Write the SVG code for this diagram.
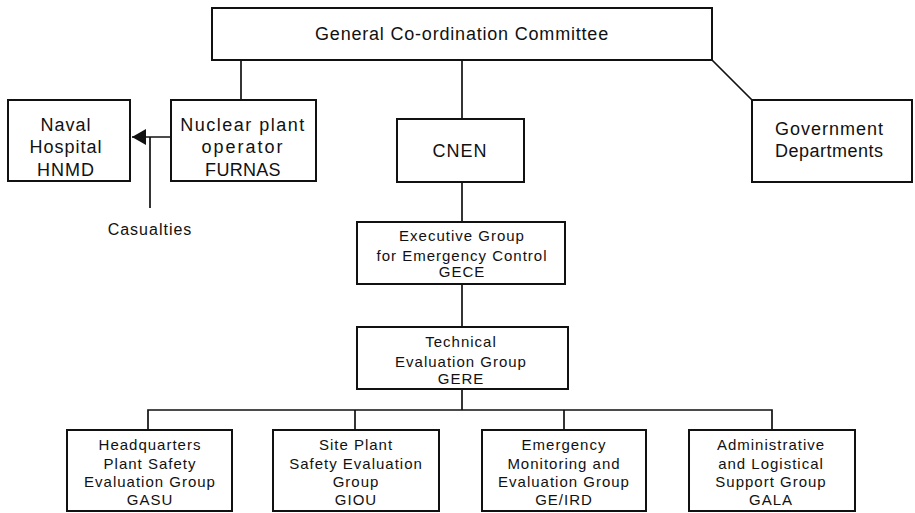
<svg xmlns="http://www.w3.org/2000/svg" width="915" height="513" viewBox="0 0 915 513">
<style>
.box{fill:#fff;stroke:#111;stroke-width:2}
.con{fill:none;stroke:#111;stroke-width:1.7}
text{font-family:"Liberation Sans",Arial,sans-serif;fill:#111;text-anchor:middle}
.t18{font-size:18px;letter-spacing:1px}
.ttl{font-size:18px;letter-spacing:0.8px}
.t15{font-size:15px;letter-spacing:1px}
.t16{font-size:16px;letter-spacing:1px}
.left{text-anchor:start}
</style>
<defs>
<marker id="arr" markerWidth="14" markerHeight="16" refX="14" refY="8" orient="auto" markerUnits="userSpaceOnUse">
<path d="M0,0 L14,8 L0,16 Z" fill="#111"/>
</marker>
</defs>
<g id="connectors">
<line class="con" x1="241" y1="60" x2="241" y2="100"/>
<line class="con" x1="462" y1="60" x2="462" y2="119"/>
<line class="con" x1="712" y1="60" x2="752" y2="100"/>
<line class="con" x1="171" y1="137" x2="132" y2="137" marker-end="url(#arr)"/>
<line class="con" x1="150" y1="137" x2="150" y2="208"/>
<line class="con" x1="462" y1="182" x2="462" y2="222"/>
<line class="con" x1="462" y1="284" x2="462" y2="327"/>
<line class="con" x1="462" y1="389" x2="462" y2="410"/>
<polyline class="con" points="148,430 148,410 772,410 772,430"/>
<line class="con" x1="355" y1="410" x2="355" y2="430"/>
<line class="con" x1="564" y1="410" x2="564" y2="430"/>
</g>
<g id="gcc">
<rect class="box" x="212" y="8" width="500" height="52"/>
<text class="ttl" x="462" y="40">General Co-ordination Committee</text>
</g>
<g id="naval">
<rect class="box" x="8" y="100" width="122" height="81"/>
<text class="t18" x="66" y="131">Naval</text>
<text class="t18" x="66" y="153">Hospital</text>
<text class="t18" x="66" y="176">HNMD</text>
</g>
<g id="furnas">
<rect class="box" x="171" y="100" width="145" height="81"/>
<text class="t18" x="243" y="131" style="letter-spacing:1.5px">Nuclear plant</text>
<text class="t18" x="243" y="153" style="letter-spacing:2px">operator</text>
<text class="t18" x="243" y="176" style="letter-spacing:0.3px">FURNAS</text>
</g>
<g id="casualties">
<text class="t16" x="150" y="235">Casualties</text>
</g>
<g id="cnen">
<rect class="box" x="397" y="119" width="127" height="63"/>
<text class="t18" x="460" y="157">CNEN</text>
</g>
<g id="gov">
<rect class="box" x="752" y="100" width="160" height="82"/>
<text class="t18 left" x="775" y="135">Government</text>
<text class="t18 left" x="775" y="157" style="letter-spacing:0.5px">Departments</text>
</g>
<g id="gece">
<rect class="box" x="357" y="222" width="208" height="62"/>
<text class="t15" x="462" y="241">Executive Group</text>
<text class="t15" x="462" y="261">for Emergency Control</text>
<text class="t15" x="462" y="277">GECE</text>
</g>
<g id="gere">
<rect class="box" x="357" y="327" width="211" height="62"/>
<text class="t15" x="461" y="347">Technical</text>
<text class="t15" x="461" y="367">Evaluation Group</text>
<text class="t15" x="461" y="384">GERE</text>
</g>
<g id="gasu">
<rect class="box" x="67" y="430" width="165" height="81"/>
<text class="t15" x="150" y="450">Headquarters</text>
<text class="t15" x="150" y="469">Plant Safety</text>
<text class="t15" x="150" y="487">Evaluation Group</text>
<text class="t15" x="150" y="505">GASU</text>
</g>
<g id="giou">
<rect class="box" x="273" y="430" width="166" height="81"/>
<text class="t15" x="356" y="450">Site Plant</text>
<text class="t15" x="356" y="469">Safety Evaluation</text>
<text class="t15" x="356" y="487">Group</text>
<text class="t15" x="356" y="505">GIOU</text>
</g>
<g id="geird">
<rect class="box" x="482" y="430" width="164" height="81"/>
<text class="t15" x="564" y="450">Emergency</text>
<text class="t15" x="564" y="469">Monitoring and</text>
<text class="t15" x="564" y="487">Evaluation Group</text>
<text class="t15" x="564" y="505">GE/IRD</text>
</g>
<g id="gala">
<rect class="box" x="689" y="430" width="166" height="81"/>
<text class="t15" x="771" y="450">Administrative</text>
<text class="t15" x="771" y="469">and Logistical</text>
<text class="t15" x="771" y="487">Support Group</text>
<text class="t15" x="771" y="505">GALA</text>
</g>
</svg>
